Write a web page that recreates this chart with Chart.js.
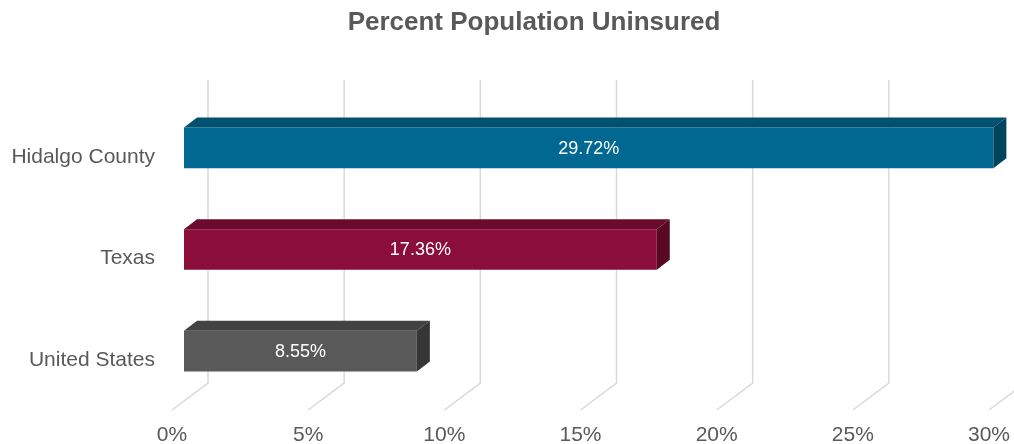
<!DOCTYPE html>
<html>
<head>
<meta charset="utf-8">
<script src="https://cdn.jsdelivr.net/npm/chart.js@4/dist/chart.umd.min.js"></script>
<style>
  html, body { margin: 0; padding: 0; background: #fff; }
  #wrap { width: 1014px; height: 444px; }
</style>
</head>
<body>
<div id="wrap"><canvas id="uninsured"></canvas></div>
<script>
// data
var chartTitle = 'Percent Population Uninsured';
var places = ['Hidalgo County', 'Texas', 'United States'];
var pctUninsured = [29.72, 17.36, 8.55];
var xTicks = [0, 5, 10, 15, 20, 25, 30];

var frontColors = ['#006891', '#8b0d39', '#595959'];
var topColors = ['#00516f', '#6c0a2c', '#424242'];
var sideColors = ['#00435c', '#590824', '#363636'];

var FONT = '"Liberation Sans", Arial, sans-serif';
var DEPTH_X = 13, DEPTH_Y = 10;

// gridlines in "3d": back wall + floor
var gridPlugin = {
	id: 'grid3d',
	beforeDatasetsDraw: function(chart) {
		var ctx = chart.ctx;
		var xs = chart.scales.x;
		var area = chart.chartArea;
		ctx.save();
		ctx.strokeStyle = '#d9d9d9';
		ctx.lineWidth = 1.5;
		for (var i = 0; i < xTicks.length; i++) {
			var px = xs.getPixelForValue(xTicks[i]);
			ctx.beginPath();
			ctx.moveTo(px + 24, area.top - 17);
			ctx.lineTo(px + 24, area.bottom - 19);
			ctx.lineTo(px - 12, area.bottom + 8);
			ctx.stroke();
		}
		ctx.restore();
	}
};

// top and side faces + value labels + title
var barPlugin = {
	id: 'bar3d',
	afterDatasetsDraw: function(chart) {
		var ctx = chart.ctx;
		var meta = chart.getDatasetMeta(0);
		ctx.save();
		meta.data.forEach(function(bar, i) {
			var top = bar.y - bar.height / 2;
			var bottom = bar.y + bar.height / 2;
			var left = bar.base, right = bar.x;

			ctx.fillStyle = topColors[i];
			ctx.beginPath();
			ctx.moveTo(left, top);
			ctx.lineTo(left + DEPTH_X, top - DEPTH_Y);
			ctx.lineTo(right + DEPTH_X, top - DEPTH_Y);
			ctx.lineTo(right, top);
			ctx.closePath();
			ctx.fill();

			ctx.fillStyle = sideColors[i];
			ctx.beginPath();
			ctx.moveTo(right, top);
			ctx.lineTo(right + DEPTH_X, top - DEPTH_Y);
			ctx.lineTo(right + DEPTH_X, bottom - DEPTH_Y);
			ctx.lineTo(right, bottom);
			ctx.closePath();
			ctx.fill();

			ctx.fillStyle = '#ffffff';
			ctx.font = '18px ' + FONT;
			ctx.textAlign = 'center';
			ctx.textBaseline = 'middle';
			ctx.fillText(pctUninsured[i].toFixed(2) + '%', (left + right) / 2, bar.y + 1);
		});

		ctx.fillStyle = '#595959';
		ctx.font = 'bold 26px ' + FONT;
		ctx.textAlign = 'center';
		ctx.textBaseline = 'middle';
		ctx.fillText(chartTitle, 534, 23);
		ctx.restore();
	}
};

var ctx = document.getElementById('uninsured').getContext('2d');
var chart = new Chart(ctx, {
	type: 'bar',
	data: {
		labels: places,
		datasets: [{
			data: pctUninsured,
			backgroundColor: frontColors,
			borderWidth: 0,
			categoryPercentage: 0.4,
			barPercentage: 1.0
		}]
	},
	options: {
		indexAxis: 'y',
		responsive: true,
		maintainAspectRatio: false,
		animation: false,
		layout: { padding: { left: 0, right: 13, top: 97, bottom: 0 } },
		plugins: {
			legend: { display: false },
			tooltip: { enabled: false },
			title: { display: false }
		},
		scales: {
			x: {
				min: 0,
				max: 30,
				grid: { display: false, drawTicks: false },
				border: { display: false },
				ticks: {
					stepSize: 5,
					padding: 21,
					labelOffset: -12,
					color: '#595959',
					font: { family: FONT, size: 21 },
					callback: function(v) { return v + '%'; }
				},
				afterFit: function(scale) {
					scale.height = 42;
					scale.paddingLeft = 0;
					scale.paddingRight = 0;
				}
			},
			y: {
				grid: { display: false, drawTicks: false },
				border: { display: false },
				ticks: {
					padding: 29,
					labelOffset: 9,
					color: '#595959',
					font: { family: FONT, size: 21 }
				},
				afterFit: function(scale) { scale.width = 184; }
			}
		}
	},
	plugins: [gridPlugin, barPlugin]
});
</script>
</body>
</html>
